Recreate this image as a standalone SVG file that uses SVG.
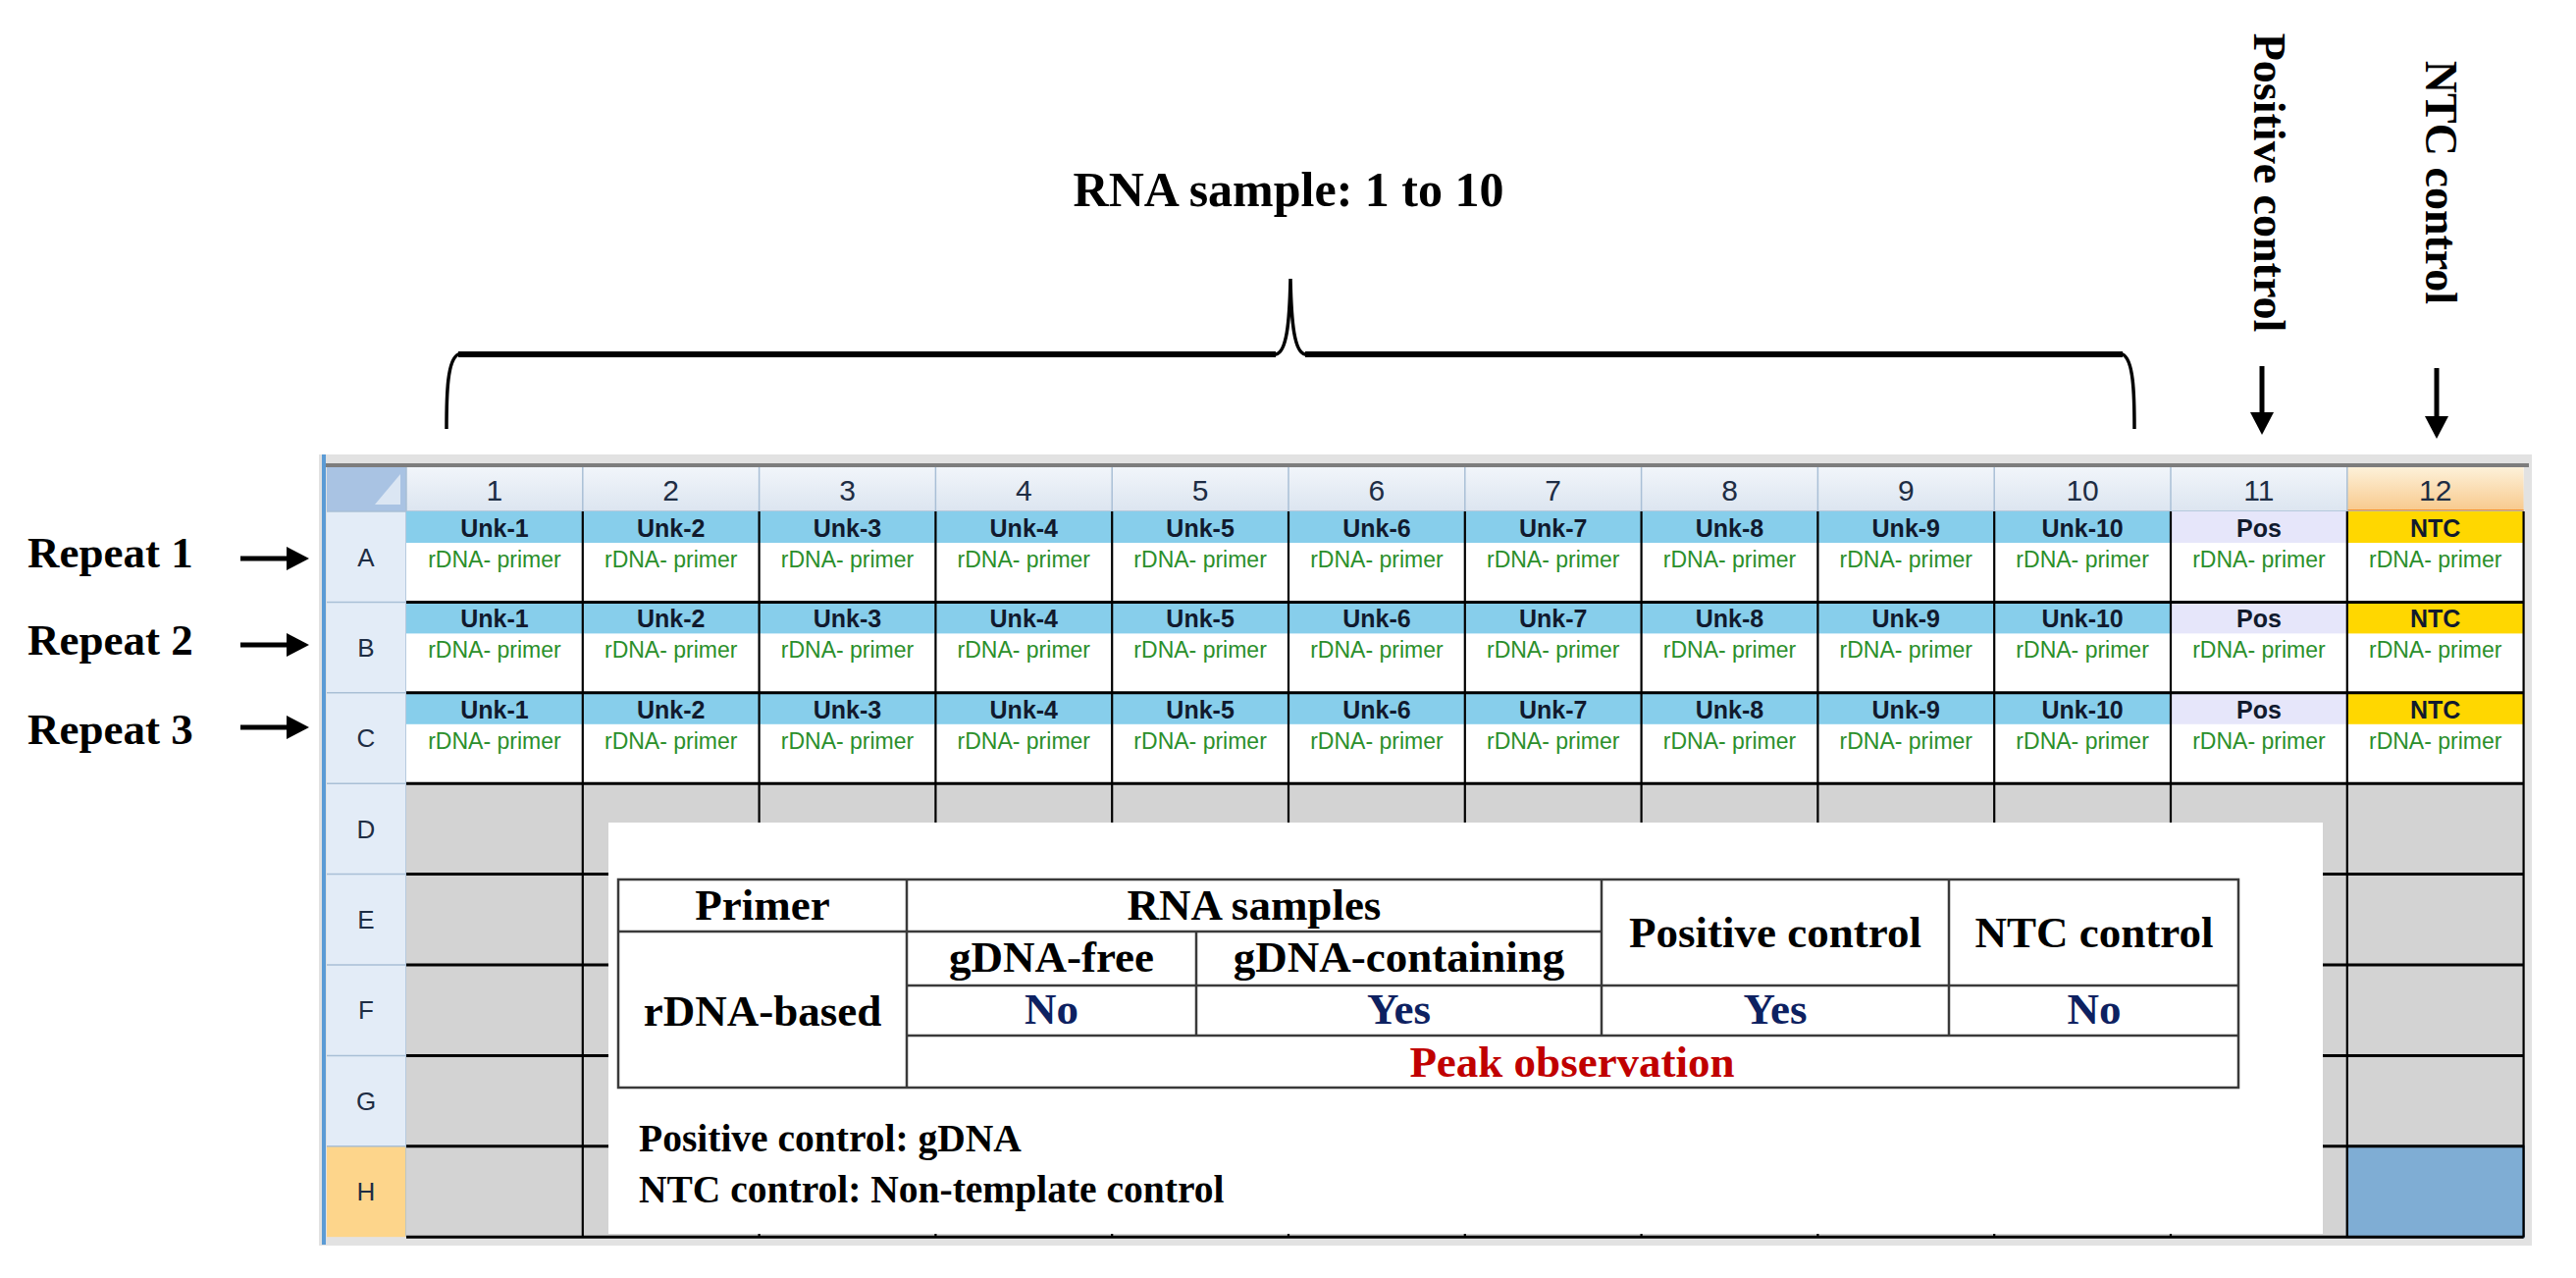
<svg xmlns="http://www.w3.org/2000/svg" width="2625" height="1302" viewBox="0 0 2625 1302">
<defs>
<style>
.unk{font-family:'Liberation Sans',Arial,sans-serif;font-weight:bold;font-size:25px;fill:#111a2e;text-anchor:middle}
.pr{font-family:'Liberation Sans',Arial,sans-serif;font-size:23px;fill:#2b8f2b;text-anchor:middle}
.hd{font-family:'Liberation Sans',Arial,sans-serif;font-size:26px;fill:#1e2d44;text-anchor:middle}
.hn{font-size:30px}
.tb{font-family:'Liberation Serif','Times New Roman',serif;font-weight:bold;font-size:45px;fill:#000;text-anchor:middle}
.big{font-family:'Liberation Serif','Times New Roman',serif;font-weight:bold;fill:#000}
.yn{fill:#0d2161}
.pk{fill:#c00000}
.ub{fill:#87ceeb}
.pb{fill:#e6e6fa}
.nb{fill:#ffd700}
.gl{stroke:#000;stroke-width:2.2;fill:none}
.gh{stroke:#000;stroke-width:3;fill:none}
.tl{stroke:#3a3a3a;stroke-width:2.5;fill:none}
.arr{stroke:#000;stroke-width:5;fill:none}
</style>
<linearGradient id="hdg" x1="0" y1="0" x2="0" y2="1"><stop offset="0" stop-color="#f1f5fa"/><stop offset="1" stop-color="#dce5f0"/></linearGradient>
<linearGradient id="hdo" x1="0" y1="0" x2="0" y2="1"><stop offset="0" stop-color="#fdf1d9"/><stop offset="1" stop-color="#f8c98c"/></linearGradient>
<marker id="ah" markerUnits="userSpaceOnUse" markerWidth="26" markerHeight="26" refX="3" refY="12" orient="auto"><path d="M0,0 L23,12 L0,24 z" fill="#000"/></marker>
</defs>
<rect width="2625" height="1302" fill="#fff"/>

<!-- spreadsheet frame -->
<g id="frame">
<rect x="325" y="463" width="2255" height="806" fill="#e2e2e2"/>
<line x1="330" y1="474" x2="2577" y2="474" stroke="#7d7d7d" stroke-width="4"/>
<rect x="333" y="476" width="2239" height="45" fill="url(#hdg)"/>
<rect x="2391.8" y="476" width="179.8" height="45" fill="url(#hdo)"/>
<line x1="2391.8" y1="520" x2="2571.6" y2="520" stroke="#f29436" stroke-width="2"/>
<rect x="333" y="476" width="81" height="45" fill="#a9c3e3"/>
<path d="M382,514 L408,483 L408,514 z" fill="#dbe6f3"/>
<rect x="333" y="521" width="81" height="739.2" fill="#e3ecf7"/>
<rect x="333" y="1167.8" width="81" height="92.4" fill="#fdd58b"/>
<line x1="330" y1="463" x2="330" y2="1268" stroke="#5b9bd5" stroke-width="4"/>
<g stroke="#a9bfd6" stroke-width="1.5">
<line x1="414" y1="476" x2="414" y2="1260"/>
<line x1="593.8" y1="476" x2="593.8" y2="521"/><line x1="773.6" y1="476" x2="773.6" y2="521"/><line x1="953.4" y1="476" x2="953.4" y2="521"/><line x1="1133.2" y1="476" x2="1133.2" y2="521"/><line x1="1313" y1="476" x2="1313" y2="521"/><line x1="1492.8" y1="476" x2="1492.8" y2="521"/><line x1="1672.6" y1="476" x2="1672.6" y2="521"/><line x1="1852.4" y1="476" x2="1852.4" y2="521"/><line x1="2032.2" y1="476" x2="2032.2" y2="521"/><line x1="2212" y1="476" x2="2212" y2="521"/><line x1="2391.8" y1="476" x2="2391.8" y2="521"/>
<line x1="333" y1="521" x2="2571.6" y2="521"/>
<line x1="333" y1="613.4" x2="414" y2="613.4"/><line x1="333" y1="705.8" x2="414" y2="705.8"/><line x1="333" y1="798.2" x2="414" y2="798.2"/><line x1="333" y1="890.6" x2="414" y2="890.6"/><line x1="333" y1="983" x2="414" y2="983"/><line x1="333" y1="1075.4" x2="414" y2="1075.4"/><line x1="333" y1="1167.8" x2="414" y2="1167.8"/>
</g>
<g class="hd">
<g class="hn">
<text x="503.9" y="510">1</text><text x="683.7" y="510">2</text><text x="863.5" y="510">3</text><text x="1043.3" y="510">4</text><text x="1223.1" y="510">5</text><text x="1402.9" y="510">6</text><text x="1582.7" y="510">7</text><text x="1762.5" y="510">8</text><text x="1942.3" y="510">9</text><text x="2122.1" y="510">10</text><text x="2301.9" y="510">11</text><text x="2481.7" y="510">12</text>
</g>
<text x="373" y="577">A</text><text x="373" y="669">B</text><text x="373" y="761">C</text><text x="373" y="854">D</text><text x="373" y="946">E</text><text x="373" y="1038">F</text><text x="373" y="1131">G</text><text x="373" y="1223">H</text>
</g>
<rect x="414" y="521" width="2157.6" height="277.2" fill="#fff"/>
<rect x="414" y="798.2" width="2157.6" height="462" fill="#d3d3d3"/>
<rect x="2391.8" y="1167.8" width="179.8" height="92.4" fill="#7fadd4" stroke="#1f4e79" stroke-width="2"/>
</g>

<!-- row A -->
<g id="A1"><rect class="ub" x="414" y="521" width="179.8" height="32"/><text class="unk" x="503.9" y="547">Unk-1</text><text class="pr" x="503.9" y="578">rDNA- primer</text></g>
<g id="A2"><rect class="ub" x="593.8" y="521" width="179.8" height="32"/><text class="unk" x="683.7" y="547">Unk-2</text><text class="pr" x="683.7" y="578">rDNA- primer</text></g>
<g id="A3"><rect class="ub" x="773.6" y="521" width="179.8" height="32"/><text class="unk" x="863.5" y="547">Unk-3</text><text class="pr" x="863.5" y="578">rDNA- primer</text></g>
<g id="A4"><rect class="ub" x="953.4" y="521" width="179.8" height="32"/><text class="unk" x="1043.3" y="547">Unk-4</text><text class="pr" x="1043.3" y="578">rDNA- primer</text></g>
<g id="A5"><rect class="ub" x="1133.2" y="521" width="179.8" height="32"/><text class="unk" x="1223.1" y="547">Unk-5</text><text class="pr" x="1223.1" y="578">rDNA- primer</text></g>
<g id="A6"><rect class="ub" x="1313" y="521" width="179.8" height="32"/><text class="unk" x="1402.9" y="547">Unk-6</text><text class="pr" x="1402.9" y="578">rDNA- primer</text></g>
<g id="A7"><rect class="ub" x="1492.8" y="521" width="179.8" height="32"/><text class="unk" x="1582.7" y="547">Unk-7</text><text class="pr" x="1582.7" y="578">rDNA- primer</text></g>
<g id="A8"><rect class="ub" x="1672.6" y="521" width="179.8" height="32"/><text class="unk" x="1762.5" y="547">Unk-8</text><text class="pr" x="1762.5" y="578">rDNA- primer</text></g>
<g id="A9"><rect class="ub" x="1852.4" y="521" width="179.8" height="32"/><text class="unk" x="1942.3" y="547">Unk-9</text><text class="pr" x="1942.3" y="578">rDNA- primer</text></g>
<g id="A10"><rect class="ub" x="2032.2" y="521" width="179.8" height="32"/><text class="unk" x="2122.1" y="547">Unk-10</text><text class="pr" x="2122.1" y="578">rDNA- primer</text></g>
<g id="A11"><rect class="pb" x="2212" y="521" width="179.8" height="32"/><text class="unk" x="2301.9" y="547">Pos</text><text class="pr" x="2301.9" y="578">rDNA- primer</text></g>
<g id="A12"><rect class="nb" x="2391.8" y="521" width="179.8" height="32"/><text class="unk" x="2481.7" y="547">NTC</text><text class="pr" x="2481.7" y="578">rDNA- primer</text></g>
<!-- row B -->
<g id="B1"><rect class="ub" x="414" y="613.4" width="179.8" height="32"/><text class="unk" x="503.9" y="639.4">Unk-1</text><text class="pr" x="503.9" y="670.4">rDNA- primer</text></g>
<g id="B2"><rect class="ub" x="593.8" y="613.4" width="179.8" height="32"/><text class="unk" x="683.7" y="639.4">Unk-2</text><text class="pr" x="683.7" y="670.4">rDNA- primer</text></g>
<g id="B3"><rect class="ub" x="773.6" y="613.4" width="179.8" height="32"/><text class="unk" x="863.5" y="639.4">Unk-3</text><text class="pr" x="863.5" y="670.4">rDNA- primer</text></g>
<g id="B4"><rect class="ub" x="953.4" y="613.4" width="179.8" height="32"/><text class="unk" x="1043.3" y="639.4">Unk-4</text><text class="pr" x="1043.3" y="670.4">rDNA- primer</text></g>
<g id="B5"><rect class="ub" x="1133.2" y="613.4" width="179.8" height="32"/><text class="unk" x="1223.1" y="639.4">Unk-5</text><text class="pr" x="1223.1" y="670.4">rDNA- primer</text></g>
<g id="B6"><rect class="ub" x="1313" y="613.4" width="179.8" height="32"/><text class="unk" x="1402.9" y="639.4">Unk-6</text><text class="pr" x="1402.9" y="670.4">rDNA- primer</text></g>
<g id="B7"><rect class="ub" x="1492.8" y="613.4" width="179.8" height="32"/><text class="unk" x="1582.7" y="639.4">Unk-7</text><text class="pr" x="1582.7" y="670.4">rDNA- primer</text></g>
<g id="B8"><rect class="ub" x="1672.6" y="613.4" width="179.8" height="32"/><text class="unk" x="1762.5" y="639.4">Unk-8</text><text class="pr" x="1762.5" y="670.4">rDNA- primer</text></g>
<g id="B9"><rect class="ub" x="1852.4" y="613.4" width="179.8" height="32"/><text class="unk" x="1942.3" y="639.4">Unk-9</text><text class="pr" x="1942.3" y="670.4">rDNA- primer</text></g>
<g id="B10"><rect class="ub" x="2032.2" y="613.4" width="179.8" height="32"/><text class="unk" x="2122.1" y="639.4">Unk-10</text><text class="pr" x="2122.1" y="670.4">rDNA- primer</text></g>
<g id="B11"><rect class="pb" x="2212" y="613.4" width="179.8" height="32"/><text class="unk" x="2301.9" y="639.4">Pos</text><text class="pr" x="2301.9" y="670.4">rDNA- primer</text></g>
<g id="B12"><rect class="nb" x="2391.8" y="613.4" width="179.8" height="32"/><text class="unk" x="2481.7" y="639.4">NTC</text><text class="pr" x="2481.7" y="670.4">rDNA- primer</text></g>
<!-- row C -->
<g id="C1"><rect class="ub" x="414" y="705.8" width="179.8" height="32"/><text class="unk" x="503.9" y="731.8">Unk-1</text><text class="pr" x="503.9" y="762.8">rDNA- primer</text></g>
<g id="C2"><rect class="ub" x="593.8" y="705.8" width="179.8" height="32"/><text class="unk" x="683.7" y="731.8">Unk-2</text><text class="pr" x="683.7" y="762.8">rDNA- primer</text></g>
<g id="C3"><rect class="ub" x="773.6" y="705.8" width="179.8" height="32"/><text class="unk" x="863.5" y="731.8">Unk-3</text><text class="pr" x="863.5" y="762.8">rDNA- primer</text></g>
<g id="C4"><rect class="ub" x="953.4" y="705.8" width="179.8" height="32"/><text class="unk" x="1043.3" y="731.8">Unk-4</text><text class="pr" x="1043.3" y="762.8">rDNA- primer</text></g>
<g id="C5"><rect class="ub" x="1133.2" y="705.8" width="179.8" height="32"/><text class="unk" x="1223.1" y="731.8">Unk-5</text><text class="pr" x="1223.1" y="762.8">rDNA- primer</text></g>
<g id="C6"><rect class="ub" x="1313" y="705.8" width="179.8" height="32"/><text class="unk" x="1402.9" y="731.8">Unk-6</text><text class="pr" x="1402.9" y="762.8">rDNA- primer</text></g>
<g id="C7"><rect class="ub" x="1492.8" y="705.8" width="179.8" height="32"/><text class="unk" x="1582.7" y="731.8">Unk-7</text><text class="pr" x="1582.7" y="762.8">rDNA- primer</text></g>
<g id="C8"><rect class="ub" x="1672.6" y="705.8" width="179.8" height="32"/><text class="unk" x="1762.5" y="731.8">Unk-8</text><text class="pr" x="1762.5" y="762.8">rDNA- primer</text></g>
<g id="C9"><rect class="ub" x="1852.4" y="705.8" width="179.8" height="32"/><text class="unk" x="1942.3" y="731.8">Unk-9</text><text class="pr" x="1942.3" y="762.8">rDNA- primer</text></g>
<g id="C10"><rect class="ub" x="2032.2" y="705.8" width="179.8" height="32"/><text class="unk" x="2122.1" y="731.8">Unk-10</text><text class="pr" x="2122.1" y="762.8">rDNA- primer</text></g>
<g id="C11"><rect class="pb" x="2212" y="705.8" width="179.8" height="32"/><text class="unk" x="2301.9" y="731.8">Pos</text><text class="pr" x="2301.9" y="762.8">rDNA- primer</text></g>
<g id="C12"><rect class="nb" x="2391.8" y="705.8" width="179.8" height="32"/><text class="unk" x="2481.7" y="731.8">NTC</text><text class="pr" x="2481.7" y="762.8">rDNA- primer</text></g>

<!-- grid lines -->
<g id="gridlines">
<path class="gl" d="M593.8,521V1260.2M773.6,521V1260.2M953.4,521V1260.2M1133.2,521V1260.2M1313,521V1260.2M1492.8,521V1260.2M1672.6,521V1260.2M1852.4,521V1260.2M2032.2,521V1260.2M2212,521V1260.2M2391.8,521V1260.2M2571.6,521V1260.2"/>
<path class="gh" d="M414,613.4H2571.6M414,705.8H2571.6M414,798.2H2571.6M414,890.6H2571.6M414,983H2571.6M414,1075.4H2571.6M414,1167.8H2571.6M414,1260.2H2571.6"/>
</g>

<!-- legend panel -->
<g id="legend">
<rect x="620" y="838" width="1747" height="419" fill="#fff"/>
<g id="table">
<rect class="tl" x="630" y="896" width="1651" height="212"/>
<path class="tl" d="M630,949H1632M924,1004H2281M924,1055H2281M924,896V1108M1219,949V1055M1632,896V1055M1986,896V1055"/>
<text class="tb" x="777" y="937">Primer</text>
<text class="tb" x="1278" y="937">RNA samples</text>
<text class="tb" x="1071.5" y="990">gDNA-free</text>
<text class="tb" x="1425.5" y="990">gDNA-containing</text>
<text class="tb" x="1809" y="965">Positive control</text>
<text class="tb" x="2134" y="965">NTC control</text>
<text class="tb" x="777" y="1045">rDNA-based</text>
<text class="tb yn" x="1071.5" y="1043">No</text>
<text class="tb yn" x="1425.5" y="1043">Yes</text>
<text class="tb yn" x="1809" y="1043">Yes</text>
<text class="tb yn" x="2134" y="1043">No</text>
<text class="tb pk" x="1602" y="1097">Peak observation</text>
</g>
<text class="big" x="651" y="1173" font-size="39.5">Positive control: gDNA</text>
<text class="big" x="651" y="1225" font-size="39.5">NTC control: Non-template control</text>
</g>

<!-- labels -->
<g id="labels">
<text class="big" x="1313" y="210" font-size="50" text-anchor="middle">RNA sample: 1 to 10</text>
<text class="big" x="28" y="578" font-size="45">Repeat 1</text>
<text class="big" x="28" y="667" font-size="45">Repeat 2</text>
<text class="big" x="28" y="758" font-size="45">Repeat 3</text>
<text class="big" font-size="46" text-anchor="middle" transform="translate(2297,186) rotate(90)">Positive control</text>
<text class="big" font-size="46" text-anchor="middle" transform="translate(2472,186) rotate(90)">NTC control</text>
</g>

<!-- connectors -->
<g id="connectors">
<path d="M455,437 C455,400 456,366 467,361 L1300,361 C1311,359 1314,330 1315,284 C1316,330 1319,359 1330,361 L2163,361 C2174,366 2175,400 2175,437" fill="none" stroke="#000" stroke-width="3.5"/>
<path d="M467,361 L1300,361 M1330,361 L2163,361" fill="none" stroke="#000" stroke-width="6"/>
<line class="arr" x1="245" y1="569" x2="295" y2="569" marker-end="url(#ah)"/>
<line class="arr" x1="245" y1="657" x2="295" y2="657" marker-end="url(#ah)"/>
<line class="arr" x1="245" y1="741" x2="295" y2="741" marker-end="url(#ah)"/>
<line class="arr" x1="2305" y1="373" x2="2305" y2="423" marker-end="url(#ah)"/>
<line class="arr" x1="2483" y1="375" x2="2483" y2="427" marker-end="url(#ah)"/>
</g>
</svg>
